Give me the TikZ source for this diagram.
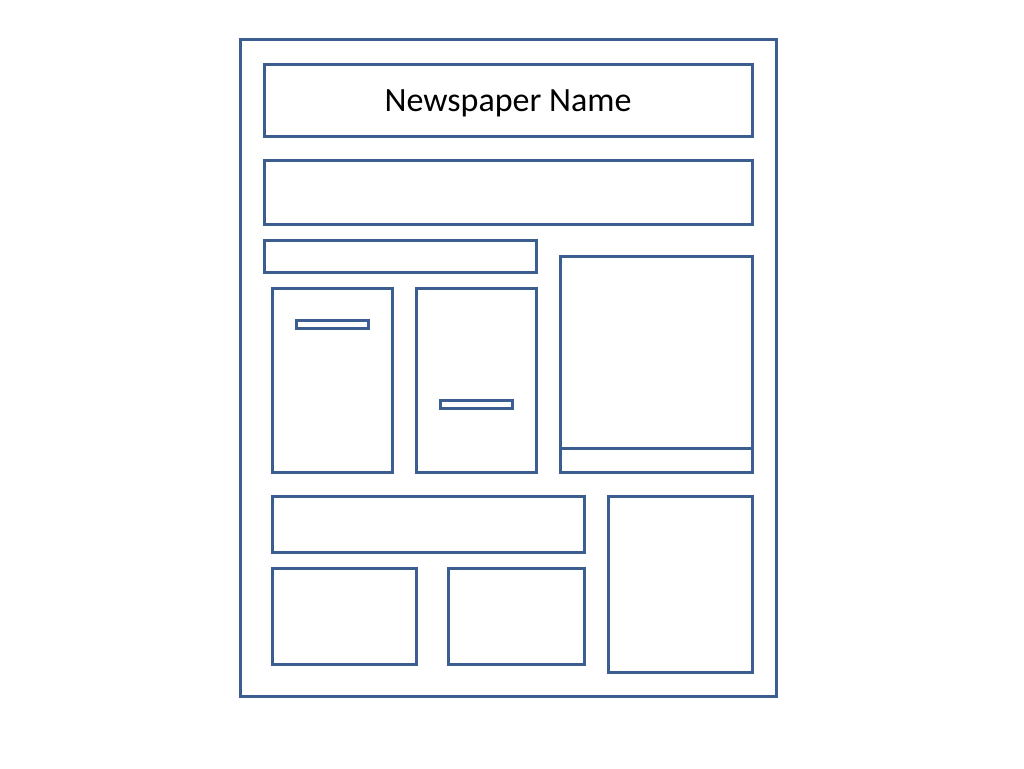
\documentclass[tikz,border=0pt]{standalone}
\usepackage{fontspec}
\setmainfont{Carlito}
\definecolor{frame}{HTML}{3B5E91}
\begin{document}
\begin{tikzpicture}[x=1pt,y=-1pt,
  box/.style={draw=frame,line width=3pt,fill=white},
  title/.style={font=\fontsize{34}{40}\selectfont,text=black}]
\useasboundingbox (0,0) rectangle (1024,768);
\draw[box] (240,40) rectangle (776,696);
\draw[box] (264,64) rectangle (752,136);
\node[title] (name) at (508,103.5) {Newspaper Name};
\draw[box] (264,160) rectangle (752,224);
\draw[box] (264,240) rectangle (536,272);
\draw[box] (272,288) rectangle (392,472);
\draw[box] (296,320) rectangle (368,328);
\draw[box] (416,288) rectangle (536,472);
\draw[box] (440,400) rectangle (512,408);
\draw[box] (560,256) rectangle (752,472);
\draw[draw=frame,line width=3pt] (560,448) -- (752,448);
\draw[box] (272,496) rectangle (584,552);
\draw[box] (272,568) rectangle (416,664);
\draw[box] (448,568) rectangle (584,664);
\draw[box] (608,496) rectangle (752,672);
\end{tikzpicture}
\end{document}
